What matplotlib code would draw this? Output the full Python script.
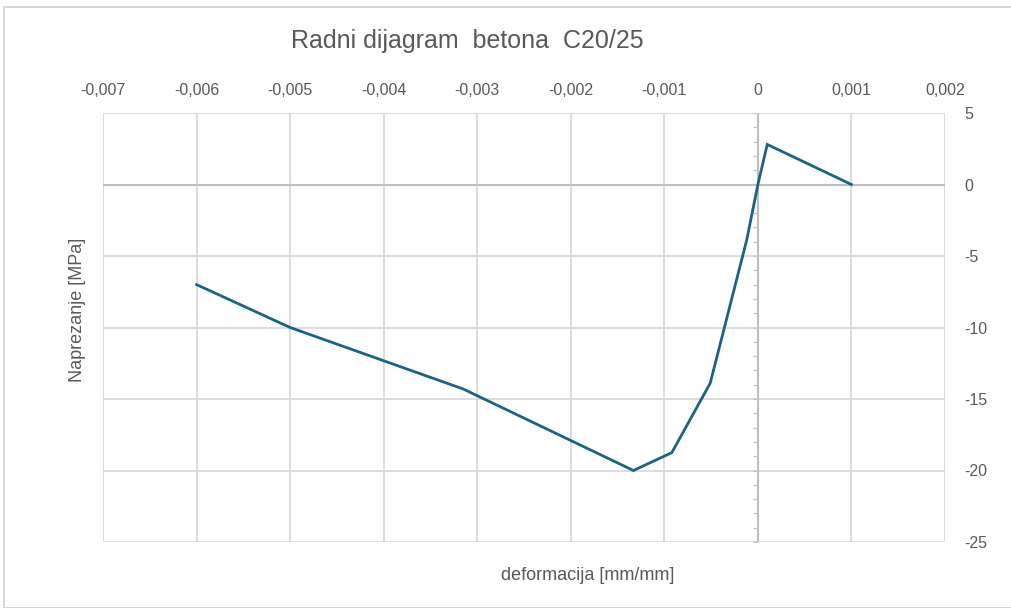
import matplotlib
matplotlib.use("Agg")
import matplotlib.pyplot as plt
from matplotlib.lines import TICKLEFT
from matplotlib.patches import Rectangle
import numpy as np

# Stress-strain curve for concrete C20/25
strain = [-0.006, -0.005, -0.00315, -0.00133, -0.00092, -0.00051, -0.00012, 0.0, 0.0001, 0.001]
stress = [-7.0, -10.0, -14.3, -20.0, -18.75, -13.9, -3.9, 0.0, 2.8, 0.0]

x_ticks = [-0.007, -0.006, -0.005, -0.004, -0.003, -0.002, -0.001, 0.0, 0.001, 0.002]
x_labels = ["-0,007", "-0,006", "-0,005", "-0,004", "-0,003", "-0,002", "-0,001", "0", "0,001", "0,002"]
y_ticks = [5, 0, -5, -10, -15, -20, -25]
y_labels = ["5", "0", "-5", "-10", "-15", "-20", "-25"]

plt.rcParams["font.family"] = ["Liberation Sans", "DejaVu Sans"]
text_color = "#595959"
grid_color = "#d9d9d9"

fig = plt.figure(figsize=(10.12, 6.08), dpi=100)
fig.patches.append(Rectangle((4 / 1012, 0), 1.0, 1 - 7 / 608, transform=fig.transFigure,
                             fill=False, edgecolor="#d0d0d0", linewidth=1.2))

ax = fig.add_axes([103 / 1012, 1 - 542 / 608, (945 - 103) / 1012, (542 - 113) / 608])
ax.set_xlim(-0.007, 0.002)
ax.set_ylim(-25, 5)

for s in ax.spines.values():
    s.set_visible(False)

ax.set_xticks(x_ticks)
ax.set_xticklabels(x_labels)
ax.set_yticks(y_ticks)
ax.set_yticklabels(y_labels)
ax.xaxis.tick_top()
ax.yaxis.tick_right()
ax.tick_params(axis="both", length=0, labelsize=11.5, colors=text_color)
ax.tick_params(axis="x", pad=11)
ax.tick_params(axis="y", pad=14)
for lbl in ax.get_yticklabels():
    lbl.set_horizontalalignment("left")

ax.grid(True, color=grid_color, linewidth=1.3)
ax.set_axisbelow(True)

# axes through the origin
ax.axhline(0, color="#bfbfbf", linewidth=1.5, zorder=1.5)
ax.axvline(0, color="#bfbfbf", linewidth=1.5, zorder=1.5)
minor_y = np.arange(-25, 6, 1)
ax.plot(np.zeros_like(minor_y), minor_y, linestyle="none", marker=TICKLEFT,
        markersize=3.5, markeredgewidth=0.9, color="#c4c4c4", zorder=1.5)

ax.plot(strain, stress, color="#1b6384", linewidth=2.0, zorder=3,
        solid_joinstyle="miter")

fig.text(467 / 1012, 1 - 41 / 608, "Radni dijagram  betona  C20/25", ha="center", va="center",
         fontsize=18, color=text_color)
fig.text(588 / 1012, 1 - 575 / 608, "deformacija [mm/mm]", ha="center", va="center",
         fontsize=13, color=text_color)
fig.text(78 / 1012, 1 - 310 / 608, "Naprezanje [MPa]", ha="center", va="center",
         rotation=90, fontsize=13, color=text_color)

fig.savefig("out.png", dpi=100)
